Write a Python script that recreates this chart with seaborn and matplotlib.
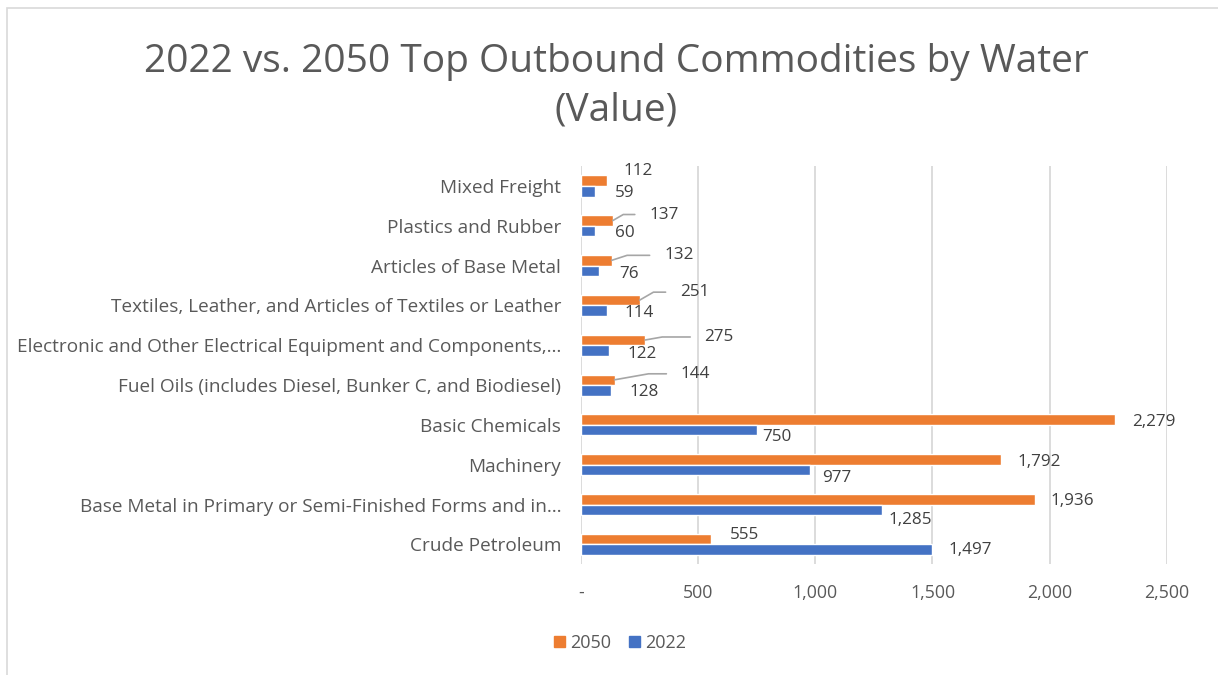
import matplotlib
matplotlib.use("Agg")
import matplotlib.pyplot as plt
import matplotlib.ticker as mticker
from matplotlib.patches import Rectangle, Patch
import pandas as pd
import seaborn as sns

# Data
categories = ["Mixed Freight", "Plastics and Rubber", "Articles of Base Metal",
              "Textiles, Leather, and Articles of Textiles or Leather",
              "Electronic and Other Electrical Equipment and Components,\u2026",
              "Fuel Oils (includes Diesel, Bunker C, and Biodiesel)",
              "Basic Chemicals", "Machinery",
              "Base Metal in Primary or Semi-Finished Forms and in\u2026",
              "Crude Petroleum"]
values_2050 = [112, 137, 132, 251, 275, 144, 2279, 1792, 1936, 555]
values_2022 = [59, 60, 76, 114, 122, 128, 750, 977, 1285, 1497]
series = ["2050", "2022"]
colors = {"2050": "#ED7D31", "2022": "#4472C4"}
x_ticks = [0, 500, 1000, 1500, 2000, 2500]

# label offsets in pixels from the bar end (dx, dy up) and leader line angle
offsets_2050 = [(31, 10), (51, 6), (67, 5), (55, 8), (74, 3), (81, 6),
                (39, -2), (38, -3), (38, -2), (34, 4)]
leaders_2050 = [None, 30, 18, 30, 10, 10, None, None, None, None]
offsets_2022 = [(30, -2), (30, -2), (30, -3), (32, -2), (33, -3), (33, -2),
                (20, -7), (27, -8), (28, -10), (38, 0)]

df = pd.DataFrame({
    "Commodity": categories * 2,
    "Year": ["2050"] * len(categories) + ["2022"] * len(categories),
    "Value": values_2050 + values_2022,
})

sns.set_theme(style="white")
plt.rcParams["font.family"] = ["Open Sans", "DejaVu Sans"]
text_col = "#595959"

fig = plt.figure(figsize=(12.18, 6.75), dpi=100)
ax = fig.add_axes([0.4768, 0.164, 0.4813, 0.59])

sns.barplot(data=df, y="Commodity", x="Value", hue="Year", hue_order=series,
            order=categories, palette=colors, orient="h", width=0.53,
            saturation=1, legend=False, ax=ax)

ax.set_xlim(0, 2500)
ax.set_ylim(len(categories) - 0.5, -0.5)
ax.set_xticks(x_ticks)
ax.xaxis.set_major_formatter(mticker.FuncFormatter(
    lambda v, p: "-" if v == 0 else f"{int(v):,}"))
ax.grid(axis="x", color="#d9d9d9", lw=1.3)
ax.set_axisbelow(True)
for s in ax.spines.values():
    s.set_visible(False)
ax.set_xlabel("")
ax.set_ylabel("")
ax.tick_params(axis="y", length=0, pad=14, labelsize=13.7, labelcolor=text_col)
ax.tick_params(axis="x", length=0, pad=14, labelsize=12.8, labelcolor=text_col)

# data labels
for cont, vals, offs, leads in [(ax.containers[0], values_2050, offsets_2050, leaders_2050),
                                 (ax.containers[1], values_2022, offsets_2022, [None] * 10)]:
    for bar, v, (dx, dy), ang in zip(cont, vals, offs, leads):
        xe = bar.get_x() + bar.get_width()
        yc = bar.get_y() + bar.get_height() / 2
        kw = {}
        if ang is not None:
            kw["arrowprops"] = dict(arrowstyle="-", color="#a6a6a6", lw=1.2,
                                    shrinkA=8, shrinkB=0, relpos=(0, 0.5),
                                    connectionstyle=f"angle,angleA=0,angleB={ang},rad=0")
        ax.annotate(f"{v:,}", xy=(xe, yc), xytext=(dx, dy), textcoords="offset pixels",
                    ha="center", va="center", fontsize=12.3, color="#404040", **kw)

fig.text(0.5057, 1 - 86 / 675,
         "2022 vs. 2050 Top Outbound Commodities by Water\n(Value)",
         ha="center", va="center", fontsize=28, color=text_col, linespacing=1.35)

handles = [Patch(color=colors[s], label=s) for s in series]
fig.legend(handles=handles, loc="center", bbox_to_anchor=(620 / 1218, 1 - 643 / 675),
           ncol=2, frameon=False, fontsize=13, handlelength=0.6, handleheight=0.6,
           handletextpad=0.3, columnspacing=1.0, labelcolor=text_col)

fig.patches.append(Rectangle((7 / 1218, -0.05), 1.1, 1 - 8 / 675 + 0.05,
                             transform=fig.transFigure, fill=False,
                             edgecolor="#d9d9d9", lw=1.2))

fig.savefig("out.png", dpi=100, facecolor="white")
